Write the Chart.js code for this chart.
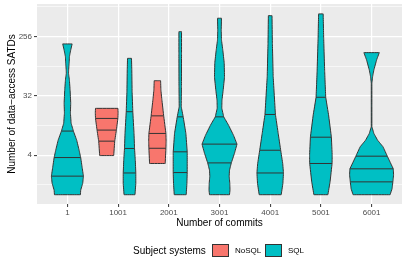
<!DOCTYPE html>
<html>
<head>
<meta charset="utf-8">
<script src="https://cdn.jsdelivr.net/npm/chart.js@4.4.0/dist/chart.umd.min.js"></script>
<style>
  html, body { margin: 0; padding: 0; background: #fff; }
  #wrap { position: relative; width: 407px; height: 271px; font-family: "Liberation Sans", Arial, sans-serif; }
  #chart { position: absolute; left: 0; top: 0; }
  .lg { position: absolute; line-height: 1; white-space: nowrap; color: #000; }
  .sw { position: absolute; box-sizing: border-box; border: 1px solid #333; }
</style>
</head>
<body>
<div id="wrap">
  <canvas id="chart" width="407" height="271"></canvas>
  <span class="lg" style="left:133px;top:246px;font-size:10px">Subject systems</span>
  <div class="sw" style="left:212px;top:244px;width:17px;height:13px;background:#F8766D"></div>
  <span class="lg" style="left:235px;top:247px;font-size:8px">NoSQL</span>
  <div class="sw" style="left:265px;top:244px;width:17px;height:13px;background:#00BFC4"></div>
  <span class="lg" style="left:288px;top:247px;font-size:8px">SQL</span>
</div>
<script>
const categories = ['1', '1001', '2001', '3001', '4001', '5001', '6001'];

// y is log2(number of data-access SATDs)
const yTickLevels = [2, 5, 8];
const yTickLabels = ['4', '32', '256'];
const yMinorLevels = [0.5, 3.5, 6.5, 9.5];

// violin outlines, bottom to top: log2 level and half width (in category units)
const sql1Levels = [0, 0.23, 0.58, 0.94, 1.39, 1.88, 2.25, 2.76, 3.22, 3.62, 4.13, 4.64, 5.30, 5.80, 6.14, 6.31, 6.65, 6.98, 7.32, 7.63];
const sql1Widths = [0.256, 0.262, 0.302, 0.316, 0.29, 0.262, 0.231, 0.183, 0.118, 0.073, 0.059, 0.065, 0.053, 0.039, 0.022, 0.024, 0.034, 0.039, 0.065, 0.093];
const sql1Quantiles = [0.94, 1.88, 3.22];

const nosql1001Levels = [1.98, 2.71, 3.27, 3.86, 4.15, 4.37];
const nosql1001Widths = [0.138, 0.158, 0.191, 0.221, 0.225, 0.221];
const nosql1001Quantiles = [2.71, 3.27, 3.86];

const sql1001Levels = [0, 0.56, 1.10, 1.75, 2.34, 3.10, 4.20, 5.21, 6.31, 6.90];
const sql1001Widths = [0.108, 0.124, 0.124, 0.114, 0.099, 0.089, 0.065, 0.051, 0.045, 0.039];
const sql1001Quantiles = [1.10, 2.34, 4.20];

const nosql2001Levels = [1.58, 2.35, 2.7, 3.10, 3.99, 4.79, 5.30, 5.77];
const nosql2001Widths = [0.154, 0.168, 0.172, 0.168, 0.124, 0.089, 0.069, 0.063];
const nosql2001Quantiles = [2.35, 3.10, 3.99];

const sql2001Levels = [0, 0.56, 1.12, 1.58, 2.17, 3.10, 3.94, 4.45, 5.46, 7.16, 8.25];
const sql2001Widths = [0.118, 0.132, 0.138, 0.138, 0.138, 0.112, 0.059, 0.02, 0.024, 0.026, 0.026];
const sql2001Quantiles = [1.12, 2.17, 3.94];

const sql3001Levels = [0, 0.23, 0.58, 0.94, 1.24, 1.61, 2.10, 2.56, 3.01, 3.52, 3.94, 4.38, 4.79, 5.30, 5.96, 6.67, 7.32, 7.83, 8.34, 8.93];
const sql3001Widths = [0.197, 0.207, 0.203, 0.191, 0.197, 0.233, 0.296, 0.345, 0.276, 0.178, 0.083, 0.045, 0.049, 0.073, 0.099, 0.093, 0.065, 0.039, 0.034, 0.039];
const sql3001Quantiles = [1.61, 2.56, 3.94];

const sql4001Levels = [0, 0.56, 1.10, 1.58, 2.25, 3.10, 4.06, 5.97, 7.66, 9.06];
const sql4001Widths = [0.217, 0.25, 0.262, 0.247, 0.207, 0.158, 0.103, 0.059, 0.043, 0.036];
const sql4001Quantiles = [1.10, 2.25, 4.06];

const sql5001Levels = [0, 0.65, 1.58, 2.0, 2.91, 4.03, 4.93, 6.22, 7.92, 9.15];
const sql5001Widths = [0.138, 0.181, 0.221, 0.223, 0.207, 0.152, 0.095, 0.075, 0.055, 0.045];
const sql5001Quantiles = [1.58, 2.91, 4.93];

const sql6001Levels = [0, 0.3, 0.65, 1.0, 1.31, 1.95, 2.42, 2.76, 3.10, 3.44, 4.5, 5.64, 5.97, 6.31, 6.82, 7.19];
const sql6001Widths = [0.365, 0.404, 0.42, 0.434, 0.428, 0.31, 0.227, 0.118, 0.045, 0.006, 0.006, 0.006, 0.02, 0.045, 0.099, 0.152];
const sql6001Quantiles = [0.65, 1.31, 1.95];

const dodge = 0.225;
const colours = { NoSQL: '#F8766D', SQL: '#00BFC4' };
const lineCol = '#333333';
const fam = '"Liberation Sans", Arial, sans-serif';

const violins = [
  { group: 'SQL', x: 0, levels: sql1Levels, widths: sql1Widths, q: sql1Quantiles },
  { group: 'NoSQL', x: 1 - dodge, levels: nosql1001Levels, widths: nosql1001Widths, q: nosql1001Quantiles },
  { group: 'SQL', x: 1 + dodge, levels: sql1001Levels, widths: sql1001Widths, q: sql1001Quantiles },
  { group: 'NoSQL', x: 2 - dodge, levels: nosql2001Levels, widths: nosql2001Widths, q: nosql2001Quantiles },
  { group: 'SQL', x: 2 + dodge, levels: sql2001Levels, widths: sql2001Widths, q: sql2001Quantiles },
  { group: 'SQL', x: 3, levels: sql3001Levels, widths: sql3001Widths, q: sql3001Quantiles },
  { group: 'SQL', x: 4, levels: sql4001Levels, widths: sql4001Widths, q: sql4001Quantiles },
  { group: 'SQL', x: 5, levels: sql5001Levels, widths: sql5001Widths, q: sql5001Quantiles },
  { group: 'SQL', x: 6, levels: sql6001Levels, widths: sql6001Widths, q: sql6001Quantiles }
];

function outline(v) {
  const right = v.levels.map((y, i) => ({ x: v.x + v.widths[i], y: y }));
  const left = v.levels.map((y, i) => ({ x: v.x - v.widths[i], y: y })).reverse();
  return right.concat(left, [right[0]]);
}

function widthAt(v, level) {
  for (let i = 1; i < v.levels.length; i++) {
    if (level <= v.levels[i]) {
      const t = (level - v.levels[i - 1]) / (v.levels[i] - v.levels[i - 1]);
      return v.widths[i - 1] + t * (v.widths[i] - v.widths[i - 1]);
    }
  }
  return v.widths[v.widths.length - 1];
}

const datasets = [];
violins.forEach(v => {
  datasets.push({
    data: outline(v),
    fill: 'shape',
    backgroundColor: colours[v.group],
    borderColor: lineCol,
    borderWidth: 1,
    borderJoinStyle: 'round',
    pointRadius: 0,
    // tiny tension keeps chart.js off its fast path, which would merge points sharing a pixel column
    tension: 0.000001,
    order: 1
  });
  v.q.forEach(level => {
    const w = widthAt(v, level);
    datasets.push({
      data: [{ x: v.x - w, y: level }, { x: v.x + w, y: level }],
      fill: false,
      borderColor: lineCol,
      borderWidth: 1,
      pointRadius: 0,
      order: 0
    });
  });
});

const panelBg = {
  id: 'panelBg',
  beforeDraw(chart) {
    const { ctx, chartArea: a } = chart;
    ctx.save();
    ctx.fillStyle = '#EBEBEB';
    ctx.fillRect(a.left, a.top, a.right - a.left, a.bottom - a.top);
    ctx.restore();
  }
};

const isMajor = v => yTickLevels.includes(v);

new Chart(document.getElementById('chart'), {
  type: 'line',
  data: { datasets: datasets },
  plugins: [panelBg],
  options: {
    responsive: false,
    animation: false,
    devicePixelRatio: 1,
    events: [],
    layout: { padding: { left: 0, right: 5, top: 4, bottom: 0 } },
    plugins: { legend: { display: false }, tooltip: { enabled: false } },
    scales: {
      x: {
        type: 'linear',
        min: -0.6,
        max: 6.6,
        afterBuildTicks: s => { s.ticks = categories.map((c, i) => ({ value: i })); },
        afterFit: s => { s.height = 67; s.paddingLeft = 0; s.paddingRight = 0; },
        ticks: {
          callback: v => categories[v],
          autoSkip: false,
          maxRotation: 0,
          padding: 1,
          color: '#4D4D4D',
          font: { size: 8, family: fam }
        },
        grid: { color: '#FFFFFF', lineWidth: 1.2, tickLength: 3, tickColor: lineCol, tickWidth: 1 },
        border: { display: false },
        title: {
          display: true,
          text: 'Number of commits',
          color: '#000',
          font: { size: 10, family: fam },
          padding: { top: 0, bottom: 42 }
        }
      },
      y: {
        type: 'linear',
        min: -0.47,
        max: 9.65,
        afterBuildTicks: s => {
          s.ticks = yMinorLevels.concat(yTickLevels).sort((a, b) => a - b).map(v => ({ value: v }));
        },
        afterFit: s => { s.width = 37; s.paddingTop = 0; s.paddingBottom = 0; },
        ticks: {
          callback: v => isMajor(v) ? yTickLabels[yTickLevels.indexOf(v)] : '',
          autoSkip: false,
          padding: 2,
          color: '#4D4D4D',
          font: { size: 8, family: fam }
        },
        grid: {
          color: '#FFFFFF',
          lineWidth: c => (c.tick && isMajor(c.tick.value)) ? 1.2 : 0.6,
          tickLength: 3,
          tickColor: c => (c.tick && isMajor(c.tick.value)) ? lineCol : 'rgba(0,0,0,0)',
          tickWidth: 1
        },
        border: { display: false },
        title: {
          display: true,
          text: 'Number of data\u2212access SATDs',
          color: '#000',
          font: { size: 10, family: fam },
          padding: { top: 6, bottom: 0 }
        }
      }
    }
  }
});
</script>
</body>
</html>
